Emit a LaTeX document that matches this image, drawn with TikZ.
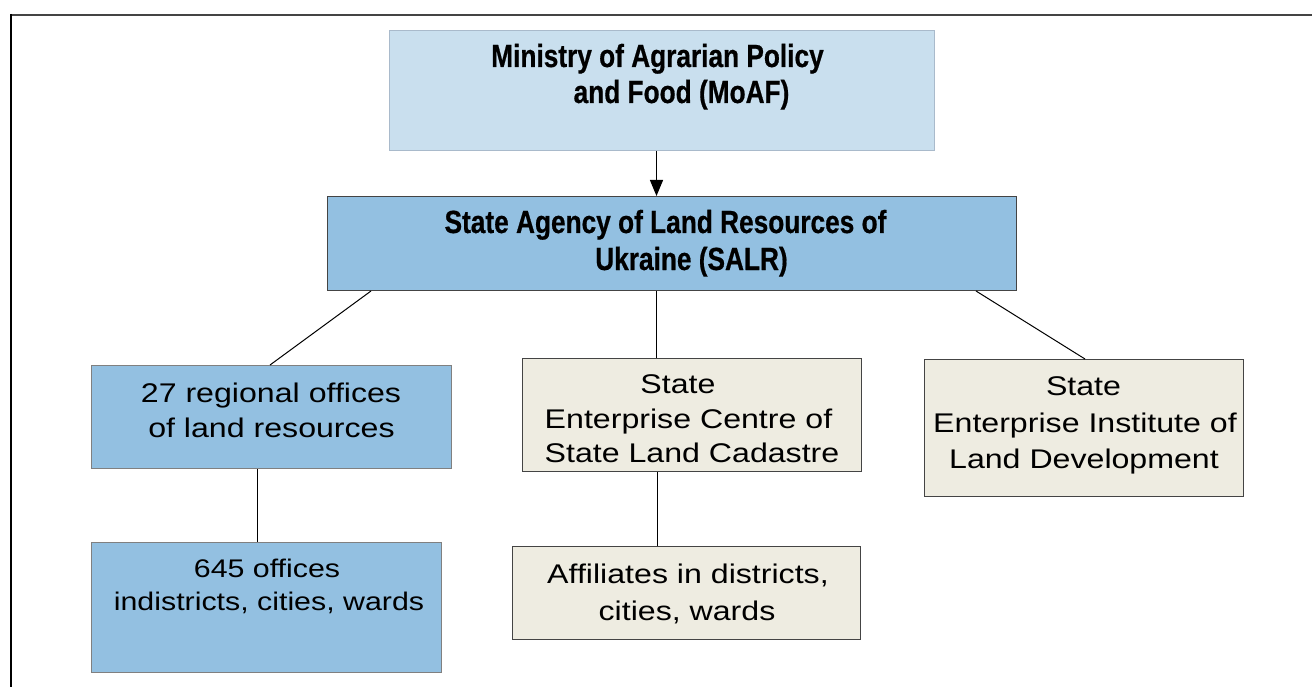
\documentclass[tikz,border=0pt]{standalone}
\usepackage{fontspec}
\setmainfont{Liberation Sans}
\newfontfamily\regfont[FakeStretch=1.19]{Liberation Sans}
\newfontfamily\condfont[FakeStretch=0.82,FakeBold=0.6]{Liberation Sans}
\usetikzlibrary{arrows.meta,calc}
\definecolor{palebox}{HTML}{C9DFEE}
\definecolor{paleedge}{HTML}{A9BACB}
\definecolor{bluebox}{HTML}{93C0E1}
\definecolor{beigebox}{HTML}{EEECE1}
\definecolor{frameclr}{HTML}{444444}
\tikzset{
  boxbase/.style={draw, rectangle, inner sep=0pt, line width=1pt, anchor=north west},
  paleblue/.style={boxbase, fill=palebox, draw=paleedge},
  darkblue/.style={boxbase, fill=bluebox, draw=frameclr},
  greyblue/.style={boxbase, fill=bluebox, draw=black!50},
  beige/.style={boxbase, fill=beigebox, draw=frameclr},
  boldtxt/.style={anchor=base, inner sep=0pt, font=\condfont\bfseries\fontsize{32}{37}\selectfont},
  regtxt/.style={anchor=base, inner sep=0pt, font=\regfont\fontsize{27}{34}\selectfont},
  smalltxt/.style={anchor=base, inner sep=0pt, font=\regfont\fontsize{25.5}{33}\selectfont},
  conn/.style={draw=black, line width=1.2pt},
}
\begin{document}
\begin{tikzpicture}[x=1pt,y=-1pt]
\useasboundingbox (0,0) rectangle (1312,687);
% frame
\draw[frameclr, line width=2pt] (10,15) -- (1313,15);
\draw[black, line width=1.5pt] (11,14) -- (11,688);
% boxes
\node[paleblue, minimum width=545pt, minimum height=120pt] (moaf) at (389,30) {};
\node[darkblue, minimum width=689pt, minimum height=94pt] (salr) at (327,196) {};
\node[greyblue, minimum width=360pt, minimum height=103pt] (reg) at (91,365) {};
\node[beige, minimum width=339pt, minimum height=113pt] (cen) at (522,358) {};
\node[beige, minimum width=319pt, minimum height=137pt] (inst) at (924,359) {};
\node[greyblue, minimum width=350pt, minimum height=130pt] (off) at (91,542) {};
\node[beige, minimum width=348pt, minimum height=93pt] (aff) at (512,546) {};
% texts
\node[boldtxt] (t1a) at (657.5,67) {Ministry of Agrarian Policy};
\node[boldtxt] (t1b) at (681.5,103) {and Food (MoAF)};
\node[boldtxt] (t2a) at (665.5,233) {State Agency of Land Resources of};
\node[boldtxt] (t2b) at (691.5,270) {Ukraine (SALR)};
\node[regtxt] (t3a) at (271,402) {27 regional offices};
\node[regtxt] (t3b) at (271.5,437) {of land resources};
\node[regtxt] (t4a) at (678,393) {State};
\node[regtxt] (t4b) at (688.5,428) {Enterprise Centre of};
\node[regtxt] (t4c) at (692,462) {State Land Cadastre};
\node[regtxt] (t5a) at (1083.5,395) {State};
\node[regtxt] (t5b) at (1085,432) {Enterprise Institute of};
\node[regtxt] (t5c) at (1084,468) {Land Development};
\node[smalltxt] (t6a) at (267,577) {645 offices};
\node[smalltxt] (t6b) at (269,610) {indistricts, cities, wards};
\node[regtxt] (t7a) at (688,583) {Affiliates in districts,};
\node[regtxt] (t7b) at (687,620) {cities, wards};
% connectors
\draw[conn, -{Triangle[length=16pt,width=13pt]}] ([xshift=-5.5pt]moaf.south) -- ([xshift=-15.5pt]salr.north);
\draw[conn, line width=1pt] ([xshift=44pt]salr.south west) -- ([xshift=179pt]reg.north west);
\draw[conn] ([xshift=-15.5pt]salr.south) -- ([xshift=-35.5pt]cen.north);
\draw[conn, line width=1pt] ([xshift=-41pt]salr.south east) -- ([xshift=161pt]inst.north west);
\draw[conn] ([xshift=-14pt]reg.south) -- ([xshift=-9pt]off.north);
\draw[conn] ([xshift=-34.5pt]cen.south) -- ([xshift=-29pt]aff.north);
\end{tikzpicture}
\end{document}
